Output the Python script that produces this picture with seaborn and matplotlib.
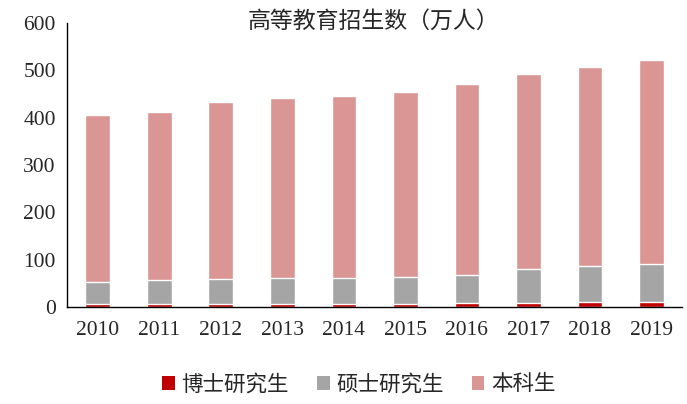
import numpy as np
import pandas as pd
import seaborn as sns
import matplotlib.pyplot as plt
from matplotlib.patches import Patch

years = ["2010", "2011", "2012", "2013", "2014", "2015", "2016", "2017", "2018", "2019"]
doctor = [6.4, 6.6, 6.8, 7.0, 7.3, 7.4, 7.7, 8.4, 9.6, 10.5]
master = [47.4, 49.5, 52.1, 54.1, 54.9, 57.1, 59.0, 72.2, 76.3, 81.1]
undergrad = [351.1, 356.6, 374.1, 381.4, 383.4, 389.4, 405.4, 410.8, 422.2, 431.3]
series_names = ["博士研究生", "硕士研究生", "本科生"]
colors = ["#C00000", "#A5A5A5", "#D99694"]


def stacked_enrollment_chart(df):
    fig = plt.figure(figsize=(6.87, 4.04), dpi=100)
    ax = fig.add_axes([0.0975, 0.240, 0.8955, 0.703])

    # stack by drawing the running totals from tallest to shortest
    df["top_doctor"] = df["doctor"]
    df["top_master"] = df["doctor"] + df["master"]
    df["top_all"] = df["top_master"] + df["undergrad"]
    for col, c in zip(["top_all", "top_master", "top_doctor"], colors[::-1]):
        sns.barplot(x="year", y=col, data=df, color=c, width=0.4,
                    saturation=1, ax=ax, errorbar=None)

    ax.set_xlim(-0.5, len(years) - 0.5)
    ax.set_ylim(0, 600)
    ax.set_yticks(range(0, 601, 100))
    ax.set_xlabel("")
    ax.set_ylabel("")
    ax.set_xticks(np.arange(-0.5, len(years), 1), minor=True)
    ax.tick_params(axis="x", which="major", length=0, pad=10, labelsize=15.5)
    ax.tick_params(axis="x", which="minor", length=6, direction="out", width=1)
    ax.tick_params(axis="y", length=5, direction="in", width=1, labelsize=15.5, pad=8)
    for s in ["top", "right"]:
        ax.spines[s].set_visible(False)
    for s in ["left", "bottom"]:
        ax.spines[s].set_color("black")
        ax.spines[s].set_linewidth(1)
    ax.grid(False)

    fig.text(0.543, 0.945, "高等教育招生数（万人）", ha="center", va="center", fontsize=16.5)

    handles = [Patch(facecolor=c, edgecolor="none") for c in colors]
    fig.legend(handles, series_names, loc="center", bbox_to_anchor=(0.522, 0.047),
               ncol=3, frameon=False, fontsize=15.5, handlelength=0.6,
               handleheight=0.6, handletextpad=0.3, columnspacing=1.3)

    fig.savefig("out.png", dpi=100)


def main():
    sns.set_style("white")
    plt.rcParams["font.family"] = ["Liberation Serif", "Noto Sans CJK SC"]
    df = pd.DataFrame({"year": years, "doctor": doctor,
                       "master": master, "undergrad": undergrad})
    stacked_enrollment_chart(df)


if __name__ == "__main__":
    main()
